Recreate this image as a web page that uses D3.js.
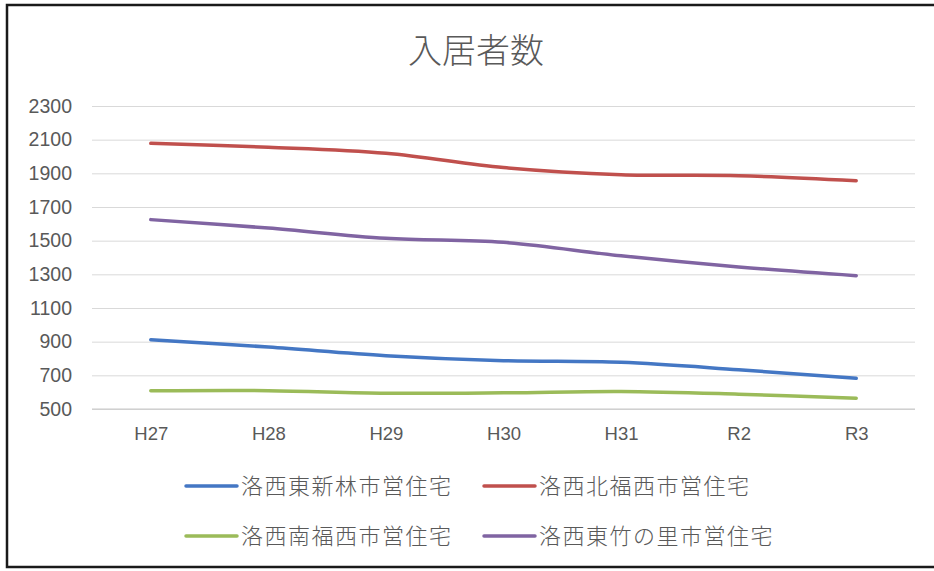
<!DOCTYPE html>
<html>
<head>
<meta charset="utf-8">
<script src="https://cdn.jsdelivr.net/npm/d3@7"></script>
<style>
  body { margin: 0; background: #fff; }
  svg { display: block; font-family: "Noto Sans CJK JP", "Liberation Sans", sans-serif; }
</style>
</head>
<body>
<div id="chart"></div>
<script>
// Data
const years = ["H27", "H28", "H29", "H30", "H31", "R2", "R3"];
const shinbayashi = [912, 868, 817, 787, 777, 733, 682];
const kitaFukunishi = [2078, 2055, 2019, 1934, 1892, 1886, 1856];
const minamiFukunishi = [608, 609, 594, 596, 604, 588, 564];
const takenosato = [1625, 1575, 1514, 1490, 1410, 1344, 1292];
const seriesNames = ["洛西東新林市営住宅", "洛西北福西市営住宅", "洛西南福西市営住宅", "洛西東竹の里市営住宅"];
const seriesColors = ["#4477c4", "#c0504d", "#9bbb59", "#8064a2"];
const yTicks = [500, 700, 900, 1100, 1300, 1500, 1700, 1900, 2100, 2300];

const series = [shinbayashi, kitaFukunishi, minamiFukunishi, takenosato].map((values, i) => ({
    name: seriesNames[i],
    color: seriesColors[i],
    values: values
}));

const width = 934, height = 571;
const margin = { top: 106, right: 19, bottom: 162, left: 92 };

const svg = d3.select("#chart").append("svg")
    .attr("width", width)
    .attr("height", height);

// chart frame (right edge runs off the picture)
svg.append("rect")
    .attr("x", 7).attr("y", 5)
    .attr("width", 960).attr("height", 562)
    .attr("fill", "#fff")
    .attr("stroke", "#1a1a1a")
    .attr("stroke-width", 2.5);

svg.append("text")
    .attr("x", 476).attr("y", 63)
    .attr("text-anchor", "middle")
    .attr("fill", "#595959")
    .style("font-size", "34px")
    .style("font-weight", 300)
    .text("入居者数");

const x = d3.scalePoint()
    .domain(years)
    .range([margin.left, width - margin.right])
    .padding(0.5);

const y = d3.scaleLinear()
    .domain([500, 2300])
    .range([height - margin.bottom, margin.top]);

// gridlines + y labels
const yAxis = svg.append("g")
    .attr("transform", `translate(${margin.left},0)`)
    .call(d3.axisLeft(y)
        .tickValues(yTicks)
        .tickFormat(d3.format("d"))
        .tickSize(-(width - margin.left - margin.right))
        .tickPadding(20));
yAxis.select(".domain").remove();
yAxis.selectAll(".tick line").attr("stroke", "#d9d9d9");
yAxis.selectAll(".tick text")
    .attr("fill", "#595959")
    .style("font-family", "'Liberation Sans', sans-serif")
    .style("font-size", "19.5px");

// x axis
const xAxis = svg.append("g")
    .attr("transform", `translate(0,${height - margin.bottom})`)
    .call(d3.axisBottom(x).tickSize(0).tickPadding(18).tickSizeOuter(0));
xAxis.select(".domain").attr("stroke", "#c8c8c8").attr("d", `M${margin.left},0H${width - margin.right}`);
xAxis.selectAll(".tick text")
    .attr("fill", "#595959")
    .style("font-family", "'Liberation Sans', sans-serif")
    .style("font-size", "18.5px");

// lines
const line = d3.line()
    .x((d, i) => x(years[i]))
    .y(d => y(d))
    .curve(d3.curveCatmullRom.alpha(0.5));

svg.append("g").selectAll("path")
    .data(series)
    .join("path")
    .attr("fill", "none")
    .attr("stroke", d => d.color)
    .attr("stroke-width", 3.5)
    .attr("stroke-linecap", "round")
    .attr("d", d => line(d.values));

// legend, 2 x 2
const legendPos = [[186, 486], [484, 486], [186, 536], [484, 536]];
const legend = svg.append("g").selectAll("g")
    .data(series)
    .join("g")
    .attr("transform", (d, i) => `translate(${legendPos[i][0]},${legendPos[i][1]})`);

legend.append("line")
    .attr("x1", 0).attr("x2", 51)
    .attr("stroke", d => d.color)
    .attr("stroke-width", 3.5)
    .attr("stroke-linecap", "round");

legend.append("text")
    .attr("x", 55).attr("y", 8)
    .attr("fill", "#595959")
    .style("font-size", "22px")
    .style("font-weight", 300)
    .style("letter-spacing", "1.5px")
    .text(d => d.name);
</script>
</body>
</html>
